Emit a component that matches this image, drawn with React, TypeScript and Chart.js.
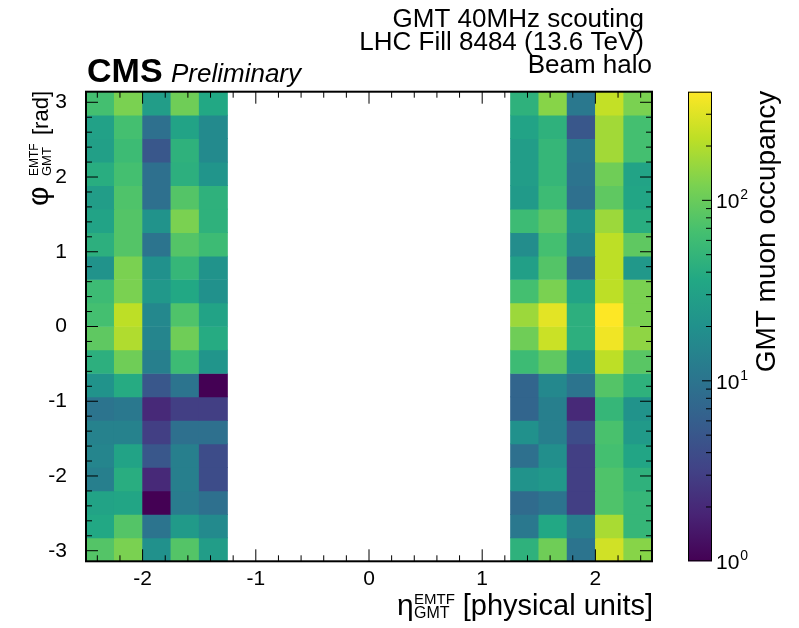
import React, { useEffect, useRef } from 'react';
import { Chart, registerables } from 'chart.js';

Chart.register(...registerables);

// ---------- data ----------
const etaCenters = [-2.375, -2.125, -1.875, -1.625, -1.375, 1.375, 1.625, 1.875, 2.125, 2.375];
const phiBinCount = 20;
// GMT muon occupancy, rows from phi = +pi (top) down to phi = -pi (bottom)
const countsNegEta = [
  [66, 121, 27, 107, 36],
  [30, 66, 9, 32, 17],
  [29, 59, 5, 46, 17],
  [41, 66, 9, 44, 22],
  [27, 75, 9, 79, 46],
  [32, 79, 21, 121, 46],
  [44, 79, 10, 79, 59],
  [21, 121, 20, 52, 21],
  [59, 121, 24, 36, 20],
  [66, 220, 16, 75, 32],
  [89, 195, 15, 107, 39],
  [44, 107, 13, 59, 22],
  [21, 39, 5, 10, 1],
  [10, 11, 2, 3, 3],
  [14, 14, 3, 9, 9],
  [15, 32, 5, 13, 4],
  [13, 41, 2, 13, 4],
  [32, 34, 1, 12, 9],
  [36, 79, 10, 25, 17],
  [79, 121, 20, 79, 27],
];
const countsPosEta = [
  [46, 136, 11, 233, 121],
  [32, 46, 5, 173, 66],
  [27, 52, 11, 173, 66],
  [27, 52, 10, 107, 32],
  [25, 59, 9, 89, 34],
  [59, 84, 21, 163, 41],
  [18, 66, 16, 220, 89],
  [29, 79, 9, 220, 24],
  [66, 121, 32, 220, 121],
  [163, 315, 44, 400, 121],
  [107, 248, 44, 355, 145],
  [59, 89, 21, 220, 84],
  [7, 16, 10, 79, 46],
  [7, 13, 2, 52, 21],
  [20, 13, 4, 70, 25],
  [9, 19, 3, 66, 34],
  [21, 24, 3, 75, 46],
  [8, 10, 3, 75, 52],
  [11, 36, 13, 184, 52],
  [46, 107, 10, 263, 136],
];
const xTickValues = [-2, -1, 0, 1, 2];
const yTickValues = [-3, -2, -1, 0, 1, 2, 3];
const zTickLabels = [1, 10, 100];
const zMin = 1;
const zMax = 400;
const etaMin = -2.5;
const etaMax = 2.5;

// ---------- style ----------
const FONT = "'Liberation Sans', Arial, Helvetica, sans-serif";
const W = 799;
const H = 628;
const PLOT_TOP = 91.7;
const X_AXIS_H = 66.7;
const Y_AXIS_W = 86;
const CB_AXIS_W = 147;

const viridisStops = ['#440154', '#482475', '#414487', '#355f8d', '#2a788e', '#21918c', '#22a884', '#44bf70', '#7ad151', '#bddf26', '#fde725'];

function hexToRgb(h: string) {
  return [parseInt(h.slice(1, 3), 16), parseInt(h.slice(3, 5), 16), parseInt(h.slice(5, 7), 16)];
}
function viridis(t: number) {
  const tt = Math.max(0, Math.min(1, t)) * (viridisStops.length - 1);
  const i = Math.min(Math.floor(tt), viridisStops.length - 2);
  const f = tt - i;
  const a = hexToRgb(viridisStops[i]);
  const b = hexToRgb(viridisStops[i + 1]);
  const c = a.map((v, k) => Math.round(v + (b[k] - v) * f));
  return `rgb(${c[0]},${c[1]},${c[2]})`;
}
function colorFor(v: number) {
  return viridis((Math.log10(v) - Math.log10(zMin)) / (Math.log10(zMax) - Math.log10(zMin)));
}

const phiStep = (2 * Math.PI) / phiBinCount;
const datasets = countsNegEta.map((row, r) => {
  const hi = Math.PI - r * phiStep;
  const lo = hi - phiStep;
  const vals = [...row, ...countsPosEta[r]];
  return {
    label: `phi${r}`,
    data: etaCenters.map((x) => ({ x, y: [lo, hi] })),
    backgroundColor: vals.map(colorFor),
    borderWidth: 0,
    grouped: false,
    categoryPercentage: 1,
    barPercentage: 1,
    xAxisID: 'x',
    yAxisID: 'y',
  };
});

function drawSubSup(ctx: CanvasRenderingContext2D, x: number, y: number, sub: string, sup: string, subSize: number, supSize: number, subDy: number, supDy: number) {
  ctx.textAlign = 'left';
  ctx.font = `${subSize}px ${FONT}`;
  ctx.fillText(sub, x, y + subDy);
  const w1 = ctx.measureText(sub).width;
  ctx.font = `${supSize}px ${FONT}`;
  ctx.fillText(sup, x, y - supDy);
  const w2 = ctx.measureText(sup).width;
  return Math.max(w1, w2);
}

const rootPlugin = {
  id: 'rootStyle',
  afterDatasetsDraw(chart: any) {
    const ctx: CanvasRenderingContext2D = chart.ctx;
    const { left, right, top, bottom } = chart.chartArea;
    const xs = chart.scales.x;
    const ys = chart.scales.y;
    ctx.save();
    ctx.strokeStyle = '#000';
    ctx.lineWidth = 1;
    const major = 12;
    const minor = 6;
    // x ticks (bottom and top, inward)
    for (let k = -12; k <= 12; k++) {
      const v = k * 0.2;
      if (v <= etaMin || v >= etaMax) continue;
      const isMajor = k % 5 === 0;
      const len = isMajor ? major : minor;
      const px = xs.getPixelForValue(v);
      ctx.beginPath();
      ctx.moveTo(px, bottom);
      ctx.lineTo(px, bottom - len);
      ctx.moveTo(px, top);
      ctx.lineTo(px, top + len);
      ctx.stroke();
    }
    // y ticks (left and right, inward)
    for (let k = -15; k <= 15; k++) {
      const v = k * 0.2;
      if (v <= -Math.PI || v >= Math.PI) continue;
      const isMajor = k % 5 === 0;
      const len = isMajor ? major : minor;
      const py = ys.getPixelForValue(v);
      ctx.beginPath();
      ctx.moveTo(left, py);
      ctx.lineTo(left + len, py);
      ctx.moveTo(right, py);
      ctx.lineTo(right - len, py);
      ctx.stroke();
    }
    // frame
    ctx.lineWidth = 2;
    ctx.strokeRect(left, top, right - left, bottom - top);
    ctx.restore();
  },
  afterDraw(chart: any) {
    const ctx: CanvasRenderingContext2D = chart.ctx;
    const { right, top } = chart.chartArea;
    const cb = chart.scales.cb;
    ctx.save();
    ctx.fillStyle = '#000';
    ctx.textBaseline = 'alphabetic';

    // ---- colour bar ----
    const x0 = cb.left + 36;
    const x1 = cb.left + 60;
    const yTop = cb.getPixelForValue(zMax);
    const yBot = cb.getPixelForValue(zMin);
    const grad = ctx.createLinearGradient(0, yBot, 0, yTop);
    viridisStops.forEach((c, i) => grad.addColorStop(i / (viridisStops.length - 1), c));
    ctx.fillStyle = grad;
    ctx.fillRect(x0, yTop, x1 - x0, yBot - yTop);
    ctx.strokeStyle = '#000';
    ctx.lineWidth = 1;
    ctx.strokeRect(x0 + 0.5, yTop + 0.5, x1 - x0 - 1, yBot - yTop - 1);
    for (let dec = 1; dec <= 100; dec *= 10) {
      for (let m = 1; m <= 9; m++) {
        const v = m * dec;
        if (v <= zMin || v >= zMax) continue;
        const py = cb.getPixelForValue(v);
        const len = m === 1 ? 10 : 6;
        ctx.beginPath();
        ctx.moveTo(x1, py);
        ctx.lineTo(x1 - len, py);
        ctx.stroke();
      }
    }
    ctx.fillStyle = '#000';
    zTickLabels.forEach((v) => {
      const py = cb.getPixelForValue(v);
      const exp = Math.round(Math.log10(v));
      ctx.font = `21px ${FONT}`;
      ctx.textAlign = 'left';
      const base = py + 8;
      const bx = x1 + 4;
      ctx.fillText('10', bx, base);
      const w = ctx.measureText('10').width;
      ctx.font = `14px ${FONT}`;
      ctx.fillText(String(exp), bx + w + 1, base - 9);
    });

    // ---- colour bar title ----
    ctx.save();
    ctx.translate(cb.left + 123, top - 1);
    ctx.rotate(-Math.PI / 2);
    ctx.font = `28px ${FONT}`;
    ctx.textAlign = 'right';
    ctx.fillText('GMT muon occupancy', 0, 0);
    ctx.restore();

    // ---- x title ----
    ctx.font = `29px ${FONT}`;
    ctx.textAlign = 'right';
    ctx.fillText('[physical units]', right + 1, 615);
    ctx.textAlign = 'left';
    ctx.font = `30px ${FONT}`;
    ctx.fillText('\u03b7', 397, 615);
    drawSubSup(ctx, 414, 615, 'GMT', 'EMTF', 16, 15, 3, 11);

    // ---- y title ----
    ctx.save();
    ctx.translate(48, 206);
    ctx.rotate(-Math.PI / 2);
    ctx.font = `30px ${FONT}`;
    ctx.textAlign = 'left';
    ctx.fillText('\u03c6', 0, 0);
    drawSubSup(ctx, 30, 0, 'GMT', 'EMTF', 13, 12, 3, 10);
    ctx.font = `22px ${FONT}`;
    ctx.textAlign = 'right';
    ctx.fillText('[rad]', 206 - 91, 0);
    ctx.restore();

    // ---- CMS label ----
    ctx.textAlign = 'left';
    ctx.font = `bold 34px ${FONT}`;
    ctx.fillText('CMS', 87, 82);
    ctx.font = `italic 26px ${FONT}`;
    ctx.fillText('Preliminary', 171, 82);

    // ---- top right ----
    ctx.textAlign = 'right';
    ctx.font = `26px ${FONT}`;
    ctx.fillText('GMT 40MHz scouting', 644, 27);
    ctx.fillText('LHC Fill 8484 (13.6 TeV)', 644, 50);
    ctx.fillText('Beam halo', 652, 73);
    ctx.restore();
  },
};

export default function App() {
  const ref = useRef<HTMLCanvasElement>(null);
  useEffect(() => {
    document.body.style.margin = '0';
    const canvas = ref.current as HTMLCanvasElement;
    const tickFont = { family: FONT, size: 21 };
    const chart = new Chart(canvas, {
      type: 'bar',
      data: { datasets: datasets as any },
      options: {
        animation: false,
        responsive: false,
        maintainAspectRatio: false,
        devicePixelRatio: 1,
        layout: { padding: { top: PLOT_TOP, left: 0, right: 0, bottom: 0 } },
        plugins: {
          legend: { display: false },
          tooltip: { enabled: false },
          title: { display: false },
        },
        scales: {
          x: {
            type: 'linear',
            min: etaMin,
            max: etaMax,
            offset: false,
            grid: { display: false, drawTicks: false, offset: false },
            border: { display: false },
            afterBuildTicks: (s: any) => {
              s.ticks = xTickValues.map((v) => ({ value: v }));
            },
            afterFit: (s: any) => {
              s.height = X_AXIS_H;
            },
            ticks: {
              padding: 5,
              color: '#000',
              font: tickFont,
              autoSkip: false,
              maxRotation: 0,
              callback: (v: any) => String(v),
            },
          },
          y: {
            type: 'linear',
            position: 'left',
            min: -Math.PI,
            max: Math.PI,
            grid: { display: false, drawTicks: false },
            border: { display: false },
            afterBuildTicks: (s: any) => {
              s.ticks = yTickValues.map((v) => ({ value: v }));
            },
            afterFit: (s: any) => {
              s.width = Y_AXIS_W;
            },
            ticks: {
              padding: 19,
              color: '#000',
              font: tickFont,
              autoSkip: false,
              callback: (v: any) => String(v),
            },
          },
          cb: {
            type: 'logarithmic',
            position: 'right',
            min: zMin,
            max: zMax,
            grid: { display: false, drawTicks: false },
            border: { display: false },
            ticks: { display: false },
            afterFit: (s: any) => {
              s.width = CB_AXIS_W;
            },
          },
        },
      } as any,
      plugins: [rootPlugin],
    });
    return () => chart.destroy();
  }, []);
  return (
    <div style={{ width: W, height: H }}>
      <canvas ref={ref} width={W} height={H} style={{ display: 'block', width: W, height: H }} />
    </div>
  );
}
